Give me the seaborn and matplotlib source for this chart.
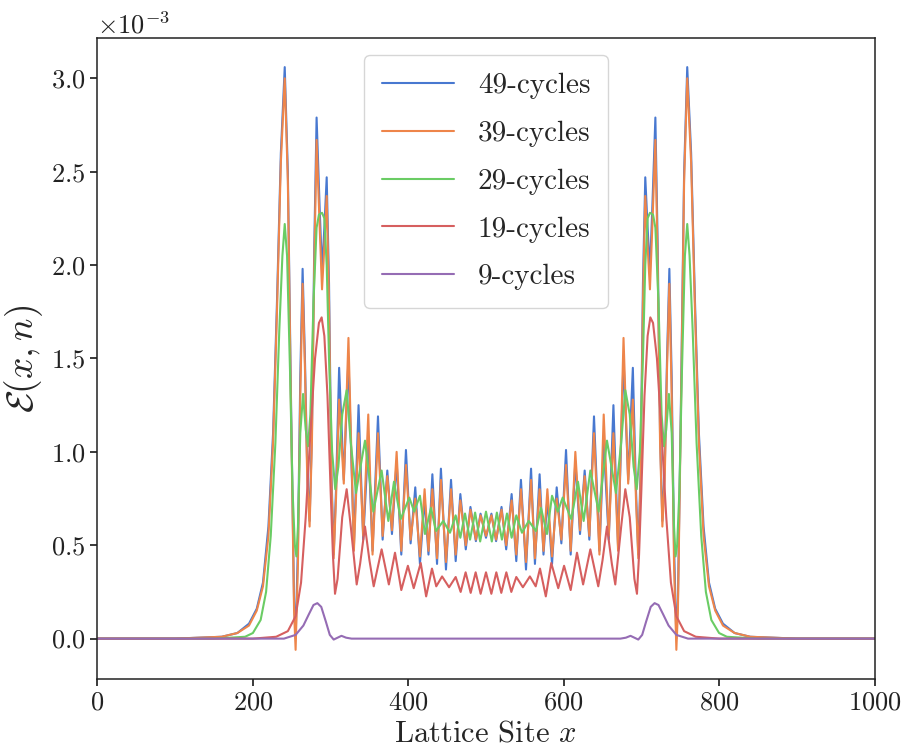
import numpy as np
import pandas as pd
import matplotlib
matplotlib.use("Agg")
import matplotlib.pyplot as plt
import seaborn as sns

# ---------------- data (energy values in units of 1e-3) ----------------
series_names = ["49-cycles", "39-cycles", "29-cycles", "19-cycles", "9-cycles"]

# shared lattice sites for the 49- and 39-cycle curves (peaks / troughs)
x_49_39 = [0, 100, 160, 180, 195, 205, 213, 220, 226, 231,
           236, 241, 245, 249, 253, 255, 258, 261, 264, 267,
           270, 273, 276, 279, 282, 286, 289, 292, 295, 298,
           301, 304, 307, 311, 317, 323, 330, 336, 342, 348.5,
           354, 361, 367, 373, 379, 385, 391, 397, 403, 409,
           415, 421, 426, 431, 437, 442, 448.5, 455, 461, 467,
           474, 480, 487, 493, 500,
           507, 513, 520, 526, 533, 539, 545, 551.5, 558, 563,
           569, 574, 579, 585, 591, 597, 603, 609, 615, 621,
           627, 633, 639, 646, 651.5, 658, 664, 670, 677, 683,
           689, 693, 696, 699, 702, 705, 708, 711, 714, 718,
           721, 724, 727, 730, 733, 736, 739, 742, 745, 747,
           751, 755, 759, 764, 769, 774, 780, 787, 795, 805,
           820, 840, 900, 1000]

y_49 = [0, 0, 0.01, 0.03, 0.08, 0.16, 0.3, 0.6, 1.1, 1.8,
        2.6, 3.06, 2.5, 1.3, 0.2, 0.0, 0.5, 1.4, 1.98, 1.5,
        0.9, 0.63, 1.1, 2.1, 2.79, 2.3, 1.97, 2.2, 2.47, 1.9,
        0.9, 0.45, 0.8, 1.45, 0.85, 1.5, 0.49, 1.25, 0.53, 1.05,
        0.47, 1.19, 0.53, 0.90, 0.56, 0.95, 0.45, 1.01, 0.51, 0.81,
        0.40, 0.75, 0.45, 0.88, 0.40, 0.91, 0.37, 0.85, 0.415, 0.774,
        0.478, 0.705, 0.522, 0.669, 0.54,
        0.669, 0.522, 0.705, 0.478, 0.774, 0.415, 0.85, 0.37, 0.91, 0.40,
        0.88, 0.45, 0.75, 0.40, 0.81, 0.51, 1.01, 0.45, 0.95, 0.56,
        0.90, 0.53, 1.19, 0.47, 1.05, 0.53, 1.25, 0.49, 1.5, 0.85,
        1.45, 0.8, 0.45, 0.9, 1.9, 2.47, 2.2, 1.97, 2.3, 2.79,
        2.1, 1.1, 0.63, 0.9, 1.5, 1.98, 1.4, 0.5, 0.0, 0.2,
        1.3, 2.5, 3.06, 2.6, 1.8, 1.1, 0.6, 0.3, 0.16, 0.08,
        0.03, 0.01, 0, 0]

y_39 = [0, 0, 0.01, 0.03, 0.07, 0.15, 0.28, 0.55, 1.05, 1.75,
        2.55, 3.0, 2.45, 1.25, 0.15, -0.06, 0.4, 1.3, 1.90, 1.45,
        0.85, 0.60, 1.05, 2.0, 2.67, 2.2, 1.87, 2.1, 2.37, 1.8,
        0.85, 0.43, 0.75, 1.28, 0.83, 1.61, 0.47, 1.10, 0.55, 1.20,
        0.45, 1.10, 0.55, 0.87, 0.58, 1.00, 0.47, 0.93, 0.53, 0.75,
        0.44, 0.80, 0.47, 0.80, 0.43, 0.85, 0.41, 0.80, 0.45, 0.74,
        0.50, 0.69, 0.53, 0.66, 0.55,
        0.66, 0.53, 0.69, 0.50, 0.74, 0.45, 0.80, 0.41, 0.85, 0.43,
        0.80, 0.47, 0.80, 0.44, 0.75, 0.53, 0.93, 0.47, 1.00, 0.58,
        0.87, 0.55, 1.10, 0.45, 1.20, 0.55, 1.10, 0.47, 1.61, 0.83,
        1.28, 0.75, 0.43, 0.85, 1.8, 2.37, 2.1, 1.87, 2.2, 2.67,
        2.0, 1.05, 0.60, 0.85, 1.45, 1.90, 1.3, 0.4, -0.06, 0.15,
        1.25, 2.45, 3.0, 2.55, 1.75, 1.05, 0.55, 0.28, 0.15, 0.07,
        0.03, 0.01, 0, 0]

x_29 = [0, 150, 190, 200, 210, 217, 223, 229, 234, 238,
        241, 244, 248, 251, 254, 256, 258, 261, 264.6, 268,
        271, 274, 278, 282, 285, 289, 292, 295, 298, 302,
        306, 310, 315, 320.7, 326, 332.7, 344.3, 355, 365.7, 374.3,
        381.6, 390.2, 401.3, 407.6, 415, 421.5, 429.2, 435.7, 445, 453.7,
        461, 467, 473, 479.5, 486, 492.5, 500,
        507.5, 514, 520.5, 527, 533, 539, 546.3, 555, 564.3, 570.8,
        578.5, 585, 592.4, 598.7, 609.8, 618.4, 625.7, 634.3, 645, 655.7,
        667.3, 674, 679.3, 685, 690, 694, 698, 702, 705, 708,
        711, 715, 718, 722, 726, 729, 732, 735.4, 739, 742,
        744, 746, 749, 752, 756, 759, 762, 766, 771, 777,
        783, 790, 800, 810, 850, 1000]

y_29 = [0, 0, 0.01, 0.03, 0.1, 0.25, 0.55, 1.05, 1.65, 2.05,
        2.22, 2.05, 1.4, 0.8, 0.5, 0.44, 0.6, 1.1, 1.31, 1.12,
        1.03, 1.2, 1.8, 2.2, 2.27, 2.28, 2.25, 2.0, 1.5, 1.0,
        0.80, 0.92, 1.2, 1.33, 1.05, 0.78, 1.06, 0.68, 0.90, 0.63,
        0.84, 0.64, 0.755, 0.68, 0.765, 0.56, 0.70, 0.576, 0.63, 0.567,
        0.66, 0.54, 0.67, 0.53, 0.675, 0.52, 0.68,
        0.52, 0.675, 0.53, 0.67, 0.54, 0.66, 0.567, 0.63, 0.576, 0.70,
        0.56, 0.765, 0.68, 0.755, 0.64, 0.84, 0.63, 0.90, 0.68, 1.06,
        0.78, 1.05, 1.33, 1.2, 0.92, 0.80, 1.0, 1.5, 2.0, 2.25,
        2.28, 2.27, 2.2, 1.8, 1.2, 1.03, 1.12, 1.31, 1.1, 0.6,
        0.44, 0.5, 0.8, 1.4, 2.05, 2.22, 2.05, 1.65, 1.05, 0.55,
        0.25, 0.1, 0.03, 0.01, 0, 0]

x_19 = [0, 200, 230, 245, 255, 262, 268, 274, 280, 285,
        288.5, 292, 296, 300, 303, 305.7, 309, 315, 320.7, 326,
        333.6, 338, 344.3, 350, 355.5, 365.7, 375, 382.9, 391, 399.5,
        407, 416, 423, 430.5, 436, 443.5, 452.5, 461, 467.4, 473.8,
        480.3, 486.7, 493.1, 500,
        506.9, 513.3, 519.7, 526.2, 532.6, 539, 547.5, 556.5, 564, 569.5,
        577, 584, 593, 600.5, 609, 617.1, 625, 634.3, 644.5, 650,
        655.7, 662, 666.4, 674, 679.3, 685, 691, 694.3, 697, 700,
        704, 708, 711.5, 715, 720, 726, 732, 738, 745, 755,
        770, 800, 1000]

y_19 = [0, 0, 0.01, 0.04, 0.12, 0.3, 0.65, 1.1, 1.5, 1.69,
        1.72, 1.62, 1.3, 0.8, 0.45, 0.24, 0.32, 0.65, 0.80, 0.6,
        0.29, 0.4, 0.60, 0.42, 0.28, 0.478, 0.29, 0.46, 0.26, 0.39,
        0.27, 0.405, 0.226, 0.375, 0.28, 0.333, 0.275, 0.33, 0.25, 0.355,
        0.245, 0.355, 0.24, 0.355,
        0.24, 0.355, 0.245, 0.355, 0.25, 0.33, 0.275, 0.333, 0.28, 0.375,
        0.226, 0.405, 0.27, 0.39, 0.26, 0.46, 0.29, 0.478, 0.28, 0.42,
        0.60, 0.4, 0.29, 0.6, 0.80, 0.65, 0.32, 0.24, 0.45, 0.8,
        1.3, 1.62, 1.72, 1.69, 1.5, 1.1, 0.65, 0.3, 0.12, 0.04,
        0.01, 0, 0]

x_9 = [0, 240, 255, 265, 272, 278, 283, 288, 294, 299,
       304, 309, 314, 320, 327, 500,
       673, 680, 686, 691, 696, 701, 706, 712, 717, 722,
       728, 735, 745, 760, 1000]

y_9 = [0, 0, 0.02, 0.07, 0.13, 0.18, 0.19, 0.17, 0.09, 0.02,
       -0.005, 0.005, 0.015, 0.005, 0, 0,
       0, 0.005, 0.015, 0.005, -0.005, 0.02, 0.09, 0.17, 0.19, 0.18,
       0.13, 0.07, 0.02, 0, 0]

colors = ["#4878d0", "#ee854a", "#6acc64", "#d65f5f", "#956cb4"]

# ---------------- build long-form table ----------------
frames = []
for name, xs, ys in zip(series_names,
                        [x_49_39, x_49_39, x_29, x_19, x_9],
                        [y_49, y_39, y_29, y_19, y_9]):
    frames.append(pd.DataFrame({"site": xs,
                                "energy": np.asarray(ys, dtype=float) * 1e-3,
                                "series": name}))
df = pd.concat(frames, ignore_index=True)

# ---------------- style ----------------
sns.set_theme(style="ticks", palette="muted")
plt.rcParams.update({
    "font.family": ["cmr10", "DejaVu Serif"],
    "mathtext.fontset": "cm",
    "axes.formatter.use_mathtext": True,
    "axes.unicode_minus": True,
    "axes.edgecolor": "#222222",
    "axes.linewidth": 1.1,
    "xtick.color": "#222222",
    "ytick.color": "#222222",
    "xtick.major.size": 5,
    "ytick.major.size": 5,
})

fig = plt.figure(figsize=(9.05, 7.49), dpi=100)
ax = fig.add_axes([0.1077, 0.0935, 0.8586, 0.8558])

sns.lineplot(data=df, x="site", y="energy", hue="series",
             hue_order=series_names, palette=colors,
             estimator=None, sort=False, linewidth=1.5, ax=ax)

ax.set_xlim(0, 1000)
ax.set_xticks([0, 200, 400, 600, 800, 1000])
ax.set_yticks(np.arange(0, 3.01, 0.5) * 1e-3)
ax.ticklabel_format(axis="y", style="sci", scilimits=(-3, -3), useMathText=True)
ax.tick_params(labelsize=19)
ax.yaxis.get_offset_text().set_fontsize(19)

ax.set_xlabel("Lattice Site $x$", fontsize=22)
ax.set_ylabel(r"$\mathcal{E}(x,n)$", fontsize=27)

handles, labels = ax.get_legend_handles_labels()
leg = ax.legend(handles, labels, loc="upper center", fontsize=21,
                labelspacing=0.73, handlelength=2.5, handletextpad=0.8,
                borderpad=0.6, borderaxespad=0.6,
                frameon=True, fancybox=True)
leg.get_frame().set_edgecolor("#cccccc")
for line in leg.get_lines():
    line.set_linewidth(1.5)

fig.savefig("out.png", dpi=100)
